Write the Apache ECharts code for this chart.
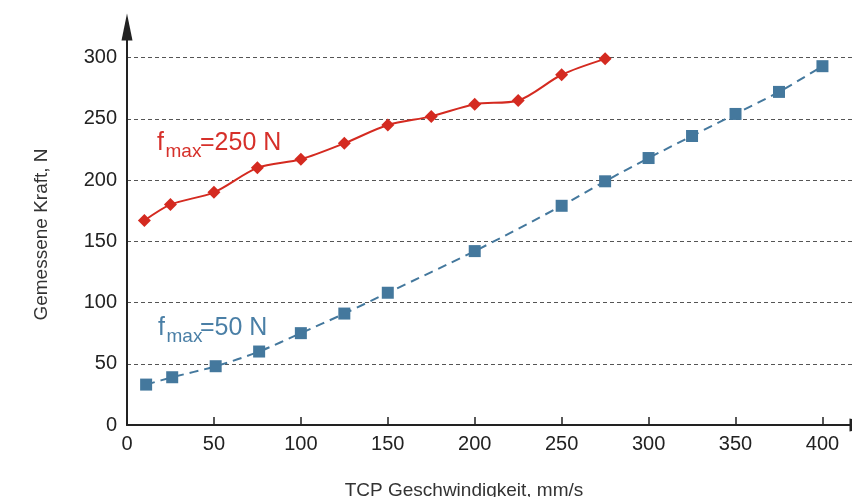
<!DOCTYPE html>
<html>
<head>
<meta charset="utf-8">
<script src="https://cdn.jsdelivr.net/npm/echarts@6/dist/echarts.min.js"></script>
<style>
html,body{margin:0;padding:0;background:#fff;}
#chart{width:852px;height:497px;}
</style>
</head>
<body>
<div id="chart"></div>
<script>
// Data
const redX = [10, 25, 50, 75, 100, 125, 150, 175, 200, 225, 250, 275];
const redY = [167, 180, 190, 210, 217, 230, 245, 252, 262, 265, 286, 299];
const blueX = [11, 26, 51, 76, 100, 125, 150, 200, 250, 275, 300, 325, 350, 375, 400];
const blueY = [33, 39, 48, 60, 75, 91, 108, 142, 179, 199, 218, 236, 254, 272, 293];
const xTicks = [0, 50, 100, 150, 200, 250, 300, 350, 400];
const yTicks = [0, 50, 100, 150, 200, 250, 300];
const xName = 'TCP Geschwindigkeit, mm/s';
const yName = 'Gemessene Kraft, N';
const redLabel = ['f', 'max', '=250 N'];
const blueLabel = ['f', 'max', '=50 N'];

const RED = '#d42a20';
const BLUE = '#44789d';
const FONT = '"Liberation Sans", Arial, Helvetica, sans-serif';

const chart = echarts.init(document.getElementById('chart'), null, {renderer: 'canvas'});

function pairs(xs, ys) { return xs.map((x, i) => [x, ys[i]]); }

function label(parts, color, xs, baseY) {
  // canvas 'middle' baseline ≈ 0.3465em above alphabetic baseline
  const M = 25, S = 19;
  return [
    {type: 'text', x: xs[0], y: baseY - 0.3465 * M,
     style: {text: parts[0], font: M + 'px ' + FONT, fill: color, textVerticalAlign: 'middle', textAlign: 'left'}},
    {type: 'text', x: xs[1], y: baseY + 6.6 - 0.3465 * S,
     style: {text: parts[1], font: S + 'px ' + FONT, fill: color, textVerticalAlign: 'middle', textAlign: 'left'}},
    {type: 'text', x: xs[2], y: baseY - 0.3465 * M,
     style: {text: parts[2], font: M + 'px ' + FONT, fill: color, textVerticalAlign: 'middle', textAlign: 'left'}}
  ];
}

const option = {
  animation: false,
  backgroundColor: '#fff',
  textStyle: {fontFamily: FONT},
  grid: {left: 127, top: 27, bottom: 72, right: 0, containLabel: false},
  xAxis: {
    type: 'value', min: 0, max: 417, interval: 50,
    axisLine: {show: true, lineStyle: {color: '#222', width: 2}, symbol: ['none', 'triangle'],
      symbolSize: [13, 27], symbolOffset: [0, 11]},
    axisTick: {show: true, inside: true, length: 8, lineStyle: {color: '#222', width: 1.5},
      customValues: xTicks},
    axisLabel: {show: true, color: '#222', fontSize: 20, margin: 9, fontFamily: FONT,
      customValues: xTicks},
    splitLine: {show: false}
  },
  yAxis: {
    type: 'value', min: 0, max: 325, interval: 50,
    axisLine: {show: true, lineStyle: {color: '#222', width: 2}, symbol: ['none', 'triangle'], symbolSize: [11, 27]},
    axisTick: {show: false},
    axisLabel: {show: true, color: '#222', fontSize: 20, margin: 10, fontFamily: FONT,
      customValues: yTicks},
    splitLine: {show: true, showMinLine: false, showMaxLine: false,
      lineStyle: {color: '#555', width: 1, type: [4, 3]}}
  },
  series: [
    {
      name: 'fmax=250 N', type: 'line', data: pairs(redX, redY), smooth: 0.3,
      symbol: 'diamond', symbolSize: 13,
      lineStyle: {color: RED, width: 2},
      itemStyle: {color: RED}
    },
    {
      name: 'fmax=50 N', type: 'line', data: pairs(blueX, blueY), smooth: 0.3,
      symbol: 'rect', symbolSize: 12,
      lineStyle: {color: BLUE, width: 2, type: [9, 6]},
      itemStyle: {color: BLUE}
    }
  ],
  graphic: [
    {type: 'text', x: 42, y: 234.5, rotation: Math.PI / 2,
     style: {text: yName, font: '19px ' + FONT, fill: '#333', textAlign: 'center', textVerticalAlign: 'middle'}},
    {type: 'text', x: 464, y: 491,
     style: {text: xName, font: '19px ' + FONT, fill: '#333', textAlign: 'center', textVerticalAlign: 'middle'}}
  ].concat(label(redLabel, '#d6302a', [157, 165.5, 200], 151.7))
   .concat(label(blueLabel, '#4a7fa6', [158, 166.5, 200], 336.7))
};
chart.setOption(option);
</script>
</body>
</html>
